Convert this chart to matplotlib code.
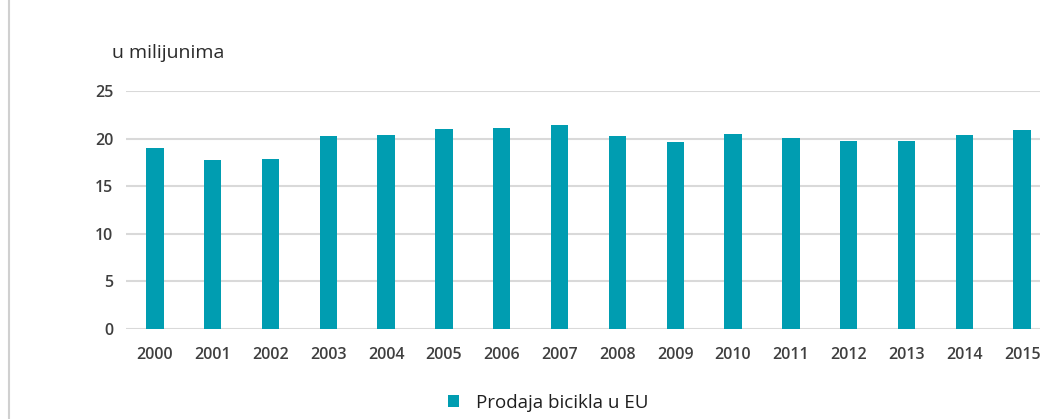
"""
Prodaja bicikla u EU, 2000-2015 (u milijunima).
"""

import matplotlib

matplotlib.use("Agg")
import matplotlib.pyplot as plt
from matplotlib.lines import Line2D
from matplotlib.patches import Patch

# Podaci
years = [str(y) for y in range(2000, 2016)]
sales = [19.0, 17.8, 17.9, 20.3, 20.4, 21.0, 21.1, 21.4,
         20.3, 19.6, 20.5, 20.1, 19.8, 19.8, 20.4, 20.9]
y_ticks = [0, 5, 10, 15, 20, 25]

BAR_COLOR = "#009DB1"
TEXT_COLOR = "#3F3F3F"
GRID_COLOR = "#D9D9D9"

plt.rcParams["font.family"] = ["Open Sans", "DejaVu Sans"]

W, H = 1040, 419
fig = plt.figure(figsize=(W / 100, H / 100), dpi=100)

# os prelazi desni rub slike (kao u originalu, 2015 je odrezan)
ax = fig.add_axes([126 / W, 1 - 329 / H, (1051 - 126) / W, (329 - 91) / H])

x = list(range(len(years)))
ax.bar(x, sales, width=0.3, color=BAR_COLOR, zorder=3)

ax.set_xlim(-0.5, len(years) - 0.5)
ax.set_ylim(0, 25)
ax.set_yticks(y_ticks)
ax.set_yticklabels([str(t) for t in y_ticks])
ax.set_xticks(x)
ax.set_xticklabels(years)

ax.grid(axis="y", color=GRID_COLOR, linewidth=1.5, zorder=0)
ax.set_axisbelow(True)
for spine in ax.spines.values():
    spine.set_visible(False)

ax.tick_params(axis="both", length=0, labelsize=11.5, labelcolor=TEXT_COLOR)
ax.tick_params(axis="x", pad=13)
ax.tick_params(axis="y", pad=9)
for lbl in ax.get_xticklabels() + ax.get_yticklabels():
    lbl.set_fontweight("semibold")

# oznaka jedinice
fig.text(112 / W, 1 - 53 / H, "u milijunima", fontsize=14, color="#2B2B2B",
         ha="left", va="center")

# legenda
handle = Patch(facecolor=BAR_COLOR, edgecolor="none")
fig.legend([handle], ["Prodaja bicikla u EU"], loc="center",
           bbox_to_anchor=(548 / W, 1 - 403 / H), frameon=False,
           fontsize=13.5, handlelength=0.6, handleheight=0.6,
           handletextpad=0.9, labelcolor="#1F1F1F")

# lijevi rub okvira grafikona
fig.add_artist(Line2D([9 / W, 9 / W], [0, 1], transform=fig.transFigure,
                      color="#D0D0D0", linewidth=1.5))

fig.savefig("out.png", dpi=100)
plt.close(fig)
